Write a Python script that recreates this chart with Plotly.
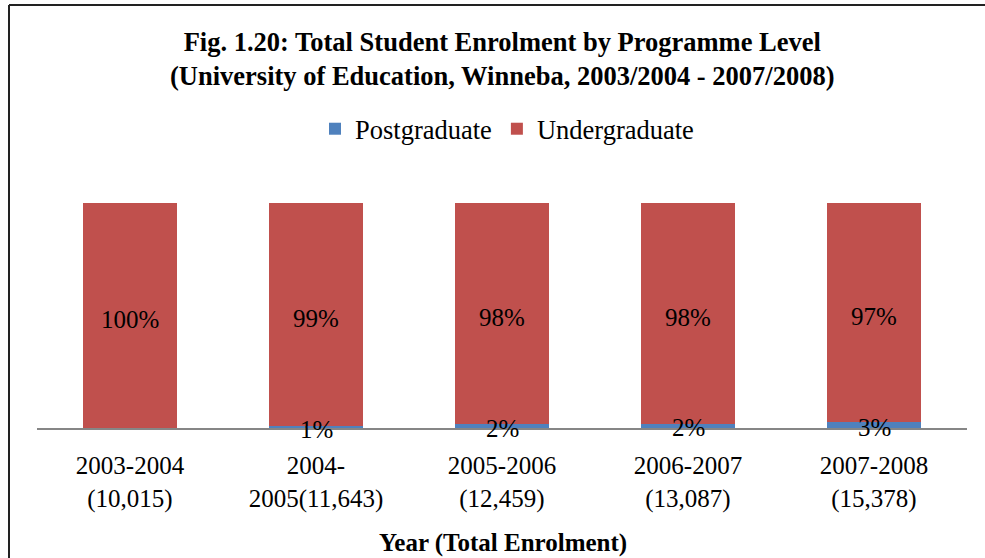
import plotly.graph_objects as go

# ---- data ----
year_labels = [
    "2003-2004<br>(10,015)",
    "2004-<br>2005(11,643)",
    "2005-2006<br>(12,459)",
    "2006-2007<br>(13,087)",
    "2007-2008<br>(15,378)",
]
postgraduate_pct = [0.1, 0.8, 1.7, 1.8, 2.6]
undergraduate_pct = [100 - v for v in postgraduate_pct]

FONT = "Liberation Serif, Times New Roman, serif"
BLUE = "#4F81BD"
RED = "#C0504D"

pg_text = [f"{round(v)}%" if round(v) > 0 else "" for v in postgraduate_pct]
ug_text = [f"{round(v)}%" for v in undergraduate_pct]

fig = go.Figure()
fig.add_trace(go.Bar(
    x=year_labels, y=postgraduate_pct, name="Postgraduate",
    marker=dict(color=BLUE, line=dict(width=0)),
    hoverinfo="skip",
))
fig.add_trace(go.Bar(
    x=year_labels, y=undergraduate_pct, name="Undergraduate",
    marker=dict(color=RED, line=dict(width=0)),
    hoverinfo="skip",
))

W, H = 985, 558
ml, mr, mt, mb = 37, 18, 203, 130
pw = W - ml - mr
ph = H - mt - mb

def px_x(x):
    return (x - ml) / pw

def px_y(y):
    return (H - mb - y) / ph

label_font = dict(family=FONT, size=25, color="black")
annotations = []
for cat, pg, ug, pt, ut in zip(year_labels, postgraduate_pct, undergraduate_pct, pg_text, ug_text):
    annotations.append(dict(
        x=cat, y=pg + ug / 2, xref="x", yref="y", text=ut, showarrow=False,
        xanchor="center", yanchor="middle", yshift=-4, font=label_font,
    ))
    if pt:
        annotations.append(dict(
            x=cat, y=pg / 2, xref="x", yref="y", text=pt, showarrow=False,
            xanchor="center", yanchor="middle", yshift=-2, font=label_font,
        ))

annotations += [
    dict(
        text="<b>Fig. 1.20: Total Student Enrolment by Programme Level<br>"
             "(University of Education, Winneba, 2003/2004 - 2007/2008)</b>",
        xref="paper", yref="paper", x=px_x(502), y=px_y(59),
        xanchor="center", yanchor="middle", showarrow=False,
        font=dict(family=FONT, size=26.5, color="black"),
    ),
    dict(
        text="<b>Year (Total Enrolment)</b>",
        xref="paper", yref="paper", x=px_x(503), y=px_y(543),
        xanchor="center", yanchor="middle", showarrow=False,
        font=dict(family=FONT, size=25, color="black"),
    ),
]

fig.update_layout(
    width=W, height=H,
    margin=dict(l=ml, r=mr, t=mt, b=mb, autoexpand=False),
    paper_bgcolor="white", plot_bgcolor="white",
    barmode="stack", bargap=0.49,
    font=dict(family=FONT, size=25, color="black"),
    showlegend=True,
    legend=dict(
        orientation="h", x=px_x(507), xanchor="center", y=px_y(129), yanchor="middle",
        font=dict(family=FONT, size=26.5, color="black"),
        traceorder="normal",
        itemwidth=30, tracegroupgap=0,
        bgcolor="rgba(0,0,0,0)",
    ),
    xaxis=dict(
        showline=True, linecolor="#868686", linewidth=2,
        showgrid=False, zeroline=False,
        ticks="", ticklabelstandoff=14,
        tickfont=dict(family=FONT, size=25, color="black"),
        fixedrange=True, automargin=False,
    ),
    yaxis=dict(
        range=[0, 100], visible=False, showgrid=False, zeroline=False,
        fixedrange=True,
    ),
    annotations=annotations,
    shapes=[
        dict(type="line", xref="paper", yref="paper",
             x0=px_x(9), x1=px_x(990), y0=px_y(5), y1=px_y(5),
             line=dict(color="#222222", width=2)),
        dict(type="line", xref="paper", yref="paper",
             x0=px_x(9), x1=px_x(9), y0=px_y(5), y1=px_y(565),
             line=dict(color="#222222", width=2)),
    ],
)

fig.write_html(
    "out.html",
    config={"displayModeBar": False},
    post_script="document.body.style.margin='0px';document.body.style.overflow='hidden';",
)
